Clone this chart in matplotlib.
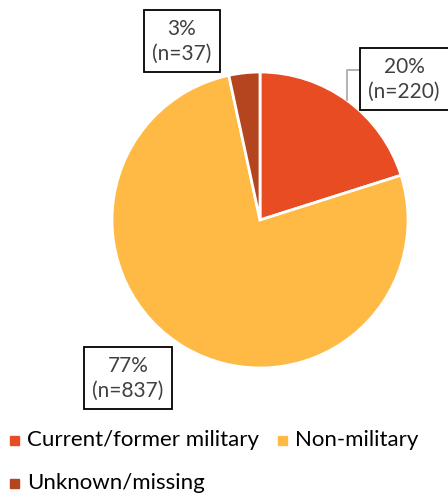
import matplotlib.pyplot as plt
from matplotlib.patches import Rectangle

categories = ['Current/former military', 'Non-military', 'Unknown/missing']
counts = [220, 837, 37]
pcts = ['20%', '77%', '3%']
colors = ['#E84C22', '#FFBA45', '#B5451F']

plt.rcParams['font.family'] = ['Lato', 'DejaVu Sans']

H = 494
fig = plt.figure(figsize=(4.48, 4.94), dpi=100)
ax = fig.add_axes([0, 0, 1, 1])

# pie in pixel coords (y flipped)
ax.pie(counts, colors=colors, startangle=90, counterclock=False,
       center=(260, H - 220), radius=148, frame=True,
       wedgeprops=dict(edgecolor='white', linewidth=2))
ax.set_xlim(0, 448)
ax.set_ylim(0, H)
ax.axis('off')

# data labels
label_pos = [(404, H - 79), (128, H - 378), (182, H - 41)]
for (x, y), p, n in zip(label_pos, pcts, counts):
    ax.text(x, y, '%s\n(n=%d)' % (p, n), ha='center', va='center',
            fontsize=15, color='#404040', linespacing=1.3,
            bbox=dict(boxstyle='square,pad=0.42', fc='white', ec='black', lw=1.3))

# leader line for 20%
ax.plot([359, 347, 347], [H - 70, H - 70, H - 100], color='#A6A6A6', lw=1.2, zorder=1)

# legend
leg_pos = [(14, 440), (282, 440), (14, 483)]
for (x, y), c, name in zip(leg_pos, colors, categories):
    ax.add_patch(Rectangle((x - 4.5, H - y - 4.5), 9, 9, color=c))
    ax.text(x + 13, H - y, name, ha='left', va='center', fontsize=16, color='black')

fig.savefig('out.png', dpi=100)
